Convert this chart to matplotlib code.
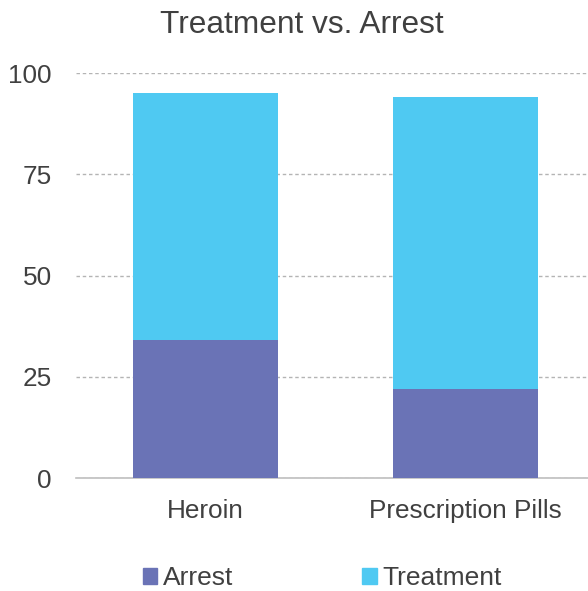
import matplotlib
matplotlib.use("Agg")
import matplotlib.pyplot as plt
from matplotlib.patches import Patch

categories = ["Heroin", "Prescription Pills"]
arrest = [34, 22]
treatment = [61, 72]
yticks = [0, 25, 50, 75, 100]

plt.rcParams['font.family'] = ['Liberation Sans', 'DejaVu Sans']
c_arrest = "#6A73B6"
c_treat = "#4FC9F2"
txt = "#404040"

fig = plt.figure(figsize=(5.88, 5.91), dpi=100)
W, H = 588, 591
ax = fig.add_axes([75.5 / W, (H - 478) / H, 520 / W, 405 / H])
x = list(range(len(categories)))
ax.bar(x, arrest, width=0.558, color=c_arrest, zorder=3)
ax.bar(x, treatment, width=0.558, bottom=arrest, color=c_treat, zorder=3)
ax.set_xlim(-0.5, 1.5)
ax.set_ylim(0, 100)
ax.set_yticks(yticks)
ax.set_xticks(x)
ax.set_xticklabels(categories)
ax.tick_params(axis='both', length=0, labelsize=18.8, colors=txt)
ax.tick_params(axis='y', pad=17)
ax.tick_params(axis='x', pad=15)
for s in ['top', 'right', 'left']:
    ax.spines[s].set_visible(False)
ax.spines['bottom'].set_color("#bfbfbf")
ax.spines['bottom'].set_linewidth(1.2)
ax.yaxis.grid(True, color="#b4b4b4", linestyle=(0, (2.5, 2)), linewidth=1, zorder=0)
ax.set_axisbelow(True)

fig.text(302 / W, 1 - 25 / H, "Treatment vs. Arrest", ha='center', va='center',
         fontsize=22.8, color=txt)

handles = [Patch(color=c_arrest, label="Arrest"), Patch(color=c_treat, label="Treatment")]
fig.legend(handles=handles, loc='center', bbox_to_anchor=(322 / W, 1 - 578 / H), ncol=2,
           frameon=False, fontsize=19, labelcolor=txt, handlelength=0.55, handleheight=0.55,
           handletextpad=0.2, columnspacing=4.9, borderpad=0, borderaxespad=0)

fig.savefig("out.png", dpi=100)
